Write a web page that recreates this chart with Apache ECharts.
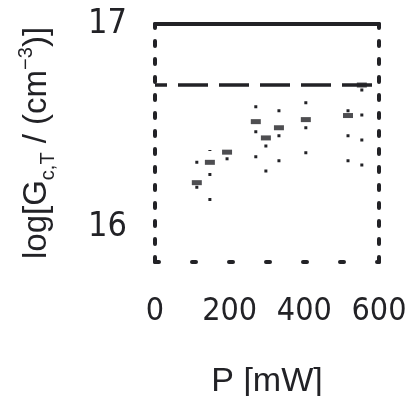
<!DOCTYPE html>
<html>
<head>
<meta charset="utf-8">
<script src="https://cdn.jsdelivr.net/npm/echarts@6/dist/echarts.min.js"></script>
<style>
  html, body { margin: 0; padding: 0; background: #fff; }
  #chart { width: 406px; height: 396px; }
</style>
</head>
<body>
<div id="chart"></div>
<script>
// Generation rate vs. laser power
const power = [112, 147, 193, 270, 297, 332, 404, 517, 554];          // P [mW]
const logG = [16.22, 16.32, 16.37, 16.52, 16.44, 16.49, 16.53, 16.55, 16.70];
const logGLow = [16.19, 16.13, 16.33, 16.34, 16.27, 16.32, 16.36, 16.32, 16.30];
const logGHigh = [16.34, 16.38, 16.39, 16.64, 16.50, 16.60, 16.64, 16.66, 16.72];
const saturationLevel = 16.7;
const xTicks = [0, 200, 400, 600];
const yTicks = [16, 17];

const ink = '#222226';
const tickFont = '"Liberation Sans Narrow", "DejaVu Sans Condensed", "Liberation Sans", sans-serif';
const nameFont = '"Liberation Sans", "DejaVu Sans", sans-serif';

const points = power.map((p, i) => [p, logG[i]]);
const bars = power.map((p, i) => [p, logGLow[i], logGHigh[i]]);

const chart = echarts.init(document.getElementById('chart'), null, { renderer: 'canvas' });

chart.setOption({
  animation: false,
  backgroundColor: '#fff',
  grid: { left: 155, right: 27, top: 24, bottom: 134, containLabel: false, outerBoundsMode: 'none' },
  xAxis: [
    {
      type: 'value',
      position: 'bottom',
      min: 0,
      max: 600,
      interval: 200,
      axisLine: { show: true, onZero: false, lineStyle: { color: ink, width: 4, type: [4, 33] } },
      axisTick: { show: false },
      splitLine: { show: false },
      axisLabel: {
        customValues: xTicks,
        color: ink,
        fontFamily: tickFont,
        fontSize: 32,
        margin: 34
      },
      name: 'P [mW]',
      nameLocation: 'middle',
      nameGap: 103,
      nameTextStyle: { color: ink, fontFamily: nameFont, fontSize: 34 }
    },
    {
      type: 'value',
      position: 'top',
      min: 0,
      max: 600,
      axisLine: { show: true, onZero: false, lineStyle: { color: ink, width: 4 } },
      axisTick: { show: false },
      axisLabel: { show: false },
      splitLine: { show: false }
    }
  ],
  yAxis: [
    {
      type: 'value',
      position: 'left',
      min: 15.83,
      max: 17,
      axisLine: { show: true, onZero: false, lineStyle: { color: ink, width: 4, type: [5, 13] } },
      axisTick: { show: false },
      splitLine: { show: false },
      axisLabel: {
        customValues: yTicks,
        color: ink,
        fontFamily: tickFont,
        fontSize: 34,
        margin: 28
      },
      name: '{b|log[G}{sub|c,T}{b| / (cm}{sup|−3}{b|)]}',
      nameLocation: 'middle',
      nameGap: 97,
      nameRotate: 90,
      nameTextStyle: {
        color: ink,
        fontFamily: nameFont,
        fontSize: 33,
        rich: {
          b: { fontSize: 33, fontFamily: nameFont, color: ink, lineHeight: 42, verticalAlign: 'middle' },
          sub: { fontSize: 20, fontFamily: nameFont, color: ink, lineHeight: 42, verticalAlign: 'bottom' },
          sup: { fontSize: 20, fontFamily: nameFont, color: ink, lineHeight: 42, verticalAlign: 'top' }
        }
      }
    },
    {
      type: 'value',
      position: 'right',
      min: 15.83,
      max: 17,
      axisLine: { show: true, onZero: false, lineStyle: { color: ink, width: 4, type: [5, 13] } },
      axisTick: { show: false },
      axisLabel: { show: false },
      splitLine: { show: false }
    }
  ],
  series: [
    {
      type: 'custom',
      xAxisIndex: 0,
      yAxisIndex: 0,
      data: bars,
      renderItem: function (params, api) {
        const x = api.value(0);
        const lo = api.coord([x, api.value(1)]);
        const hi = api.coord([x, api.value(2)]);
        return {
          type: 'line',
          shape: { x1: lo[0], y1: lo[1], x2: hi[0], y2: hi[1] },
          style: { stroke: ink, lineWidth: 3, lineDash: [3, 22] }
        };
      },
      z: 2
    },
    {
      type: 'scatter',
      xAxisIndex: 0,
      yAxisIndex: 0,
      data: points,
      symbol: 'rect',
      symbolSize: [10, 5],
      itemStyle: { color: ink },
      z: 3,
      markLine: {
        silent: true,
        symbol: 'none',
        label: { show: false },
        lineStyle: { color: ink, width: 3.5, type: [30, 11], dashOffset: 18 },
        data: [{ yAxis: saturationLevel }]
      }
    }
  ]
});
</script>
</body>
</html>
